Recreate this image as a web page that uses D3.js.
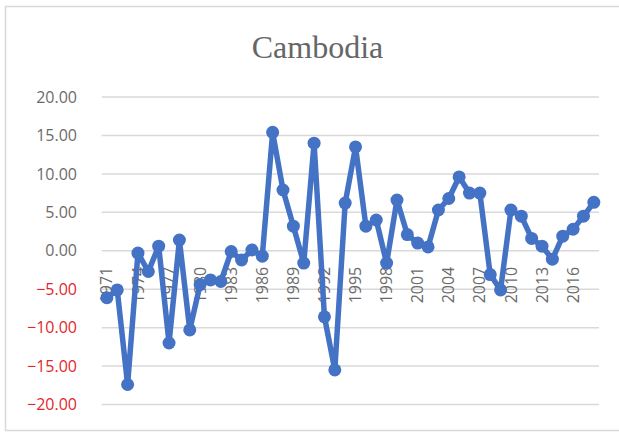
<!DOCTYPE html>
<html>
<head>
<meta charset="utf-8">
<script src="https://cdn.jsdelivr.net/npm/d3@7"></script>
<style>
html,body{margin:0;padding:0;background:#fff;}
svg{display:block;}
</style>
</head>
<body>
<svg id="chart" width="619" height="434"></svg>
<script>
const title = "Cambodia";
const years = d3.range(1971, 2019).map(String);
const values = [
  -6.1, -5.1, -17.4, -0.3, -2.7, 0.6, -12.0, 1.4, -10.3, -4.4,
  -3.8, -4.0, -0.1, -1.2, 0.1, -0.7, 15.4, 7.9, 3.2, -1.6,
  14.0, -8.6, -15.5, 6.2, 13.5, 3.2, 4.0, -1.6, 6.6, 2.1,
  1.0, 0.5, 5.3, 6.8, 9.6, 7.5, 7.5, -3.1, -5.1, 5.3,
  4.5, 1.6, 0.6, -1.1, 1.9, 2.8, 4.5, 6.3
];
const yTicks = [-20, -15, -10, -5, 0, 5, 10, 15, 20];
const labelEvery = 3;

(function () {
const svg = d3.select("#chart");
const pLeft = 101.7, pRight = 599, pTop = 97, pBottom = 404.5;

// chart border
svg.append("rect")
  .attr("x", 5.5).attr("y", 6.5)
  .attr("width", 700).attr("height", 424)
  .attr("fill", "#fff").attr("stroke", "#d9d9d9").attr("stroke-width", 1.5);

const x = d3.scaleBand().domain(years).range([pLeft, pRight]).padding(0);
const y = d3.scaleLinear().domain([-20, 20]).range([pBottom, pTop]);

// gridlines
svg.append("g").selectAll("line").data(yTicks).join("line")
  .attr("x1", pLeft).attr("x2", pRight)
  .attr("y1", d => y(d)).attr("y2", d => y(d))
  .attr("stroke", "#d9d9d9").attr("stroke-width", 1.5);

// y axis labels
const yAxis = d3.axisLeft(y).tickValues(yTicks).tickSize(0).tickPadding(0)
  .tickFormat(d3.format(".2f"));
const gy = svg.append("g").attr("transform", "translate(77,0)").call(yAxis);
gy.select(".domain").remove();
gy.selectAll("text")
  .attr("font-family", "'Open Sans', sans-serif")
  .attr("font-size", 16)
  .attr("fill", d => d < 0 ? "#e3262b" : "#6b6b6b");

// x axis labels (rotated)
const xAxis = d3.axisBottom(x)
  .tickValues(years.filter((d, i) => i % labelEvery === 0))
  .tickSize(0).tickPadding(0);
const gx = svg.append("g").attr("transform", `translate(0,${y(0)})`).call(xAxis);
gx.select(".domain").remove();
gx.selectAll("text")
  .attr("font-family", "'Open Sans', sans-serif")
  .attr("font-size", 16)
  .attr("fill", "#6b6b6b")
  .attr("text-anchor", "end")
  .attr("transform", "rotate(-90)")
  .attr("x", -16)
  .attr("y", 0)
  .attr("dy", "0.35em");

// title
svg.append("text")
  .attr("x", 317.5).attr("y", 58)
  .attr("text-anchor", "middle")
  .attr("font-family", "'Liberation Serif', 'Times New Roman', serif")
  .attr("font-size", 32)
  .attr("fill", "#666666")
  .text(title);

// series
const data = years.map((yr, i) => ({yr, v: values[i]}));
const line = d3.line().x(d => x(d.yr) + x.bandwidth() / 2).y(d => y(d.v));
svg.append("path").datum(data)
  .attr("d", line)
  .attr("fill", "none")
  .attr("stroke", "#4472c4")
  .attr("stroke-width", 5.5)
  .attr("stroke-linejoin", "round");
svg.append("g").selectAll("circle").data(data).join("circle")
  .attr("cx", d => x(d.yr) + x.bandwidth() / 2)
  .attr("cy", d => y(d.v))
  .attr("r", 6.5)
  .attr("fill", "#4472c4");
})();
</script>
</body>
</html>
